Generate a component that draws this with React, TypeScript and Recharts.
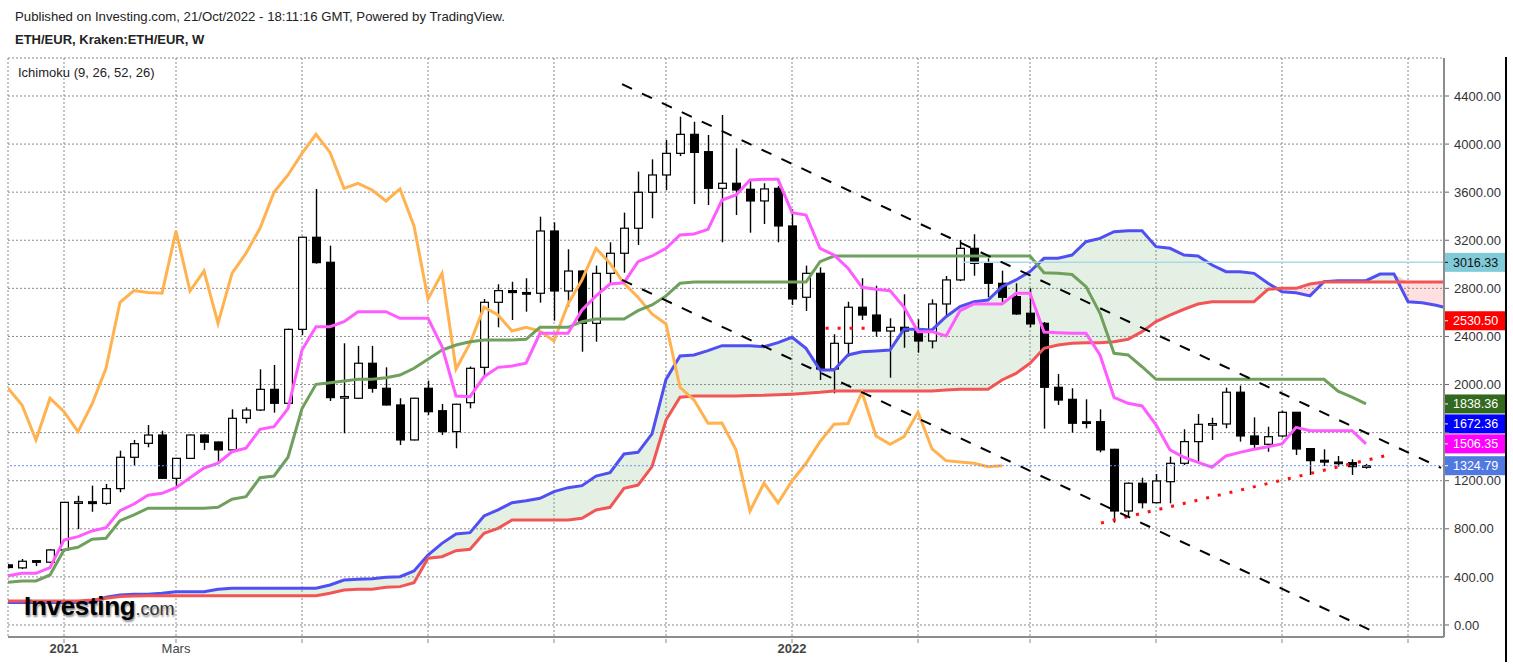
import React from 'react';
import { ComposedChart, XAxis, YAxis, CartesianGrid, Line, Area, Bar, ReferenceLine } from 'recharts';

// Weekly bars, index 0 = first week of January 2021 (first bar index = -4)
const FIRST_WEEK = -4;

const opens = [
  500, 475, 535, 522, 624, 1015, 1025, 1012, 1134, 1395,
  1511, 1580, 1220, 1386, 1580, 1522, 1456, 1719, 1788, 1960,
  1844, 2459, 3225, 3017, 1891, 1886, 2177, 1969, 1830, 1539,
  1969, 1782, 1608, 1849, 2143, 2684, 2781, 2765, 2759, 3277,
  2778, 2944, 2509, 2925, 3092, 3300, 3599, 3743, 3923, 4081,
  3937, 3632, 3674, 3624, 3527, 3632, 3319, 2726, 2925, 2129,
  2343, 2643, 2578, 2445, 2476, 2445, 2362, 2670, 2870, 3133,
  3008, 2842, 2731, 2593, 2509, 1977, 1877, 1690, 1691, 1461,
  948, 1179, 1017, 1192, 1345, 1525, 1669, 1672, 1936, 1572,
  1503, 1572, 1769, 1467, 1370, 1355, 1350, 1317,
];
const highs = [
  505, 549, 540, 630, 1025, 1075, 1159, 1173, 1450, 1539,
  1663, 1616, 1390, 1585, 1585, 1525, 1794, 1810, 2127, 2163,
  2465, 3230, 3626, 3155, 2343, 2321, 2321, 2143, 1886, 1890,
  2032, 1838, 1840, 2150, 2711, 2834, 2855, 2884, 3396, 3349,
  3125, 2950, 2989, 3183, 3430, 3771, 3873, 4034, 4228, 4186,
  4076, 4242, 3965, 3707, 3674, 3651, 3458, 2989, 2975, 2418,
  2689, 2884, 2822, 2551, 2751, 2543, 2709, 2903, 3202, 3250,
  3050, 2947, 2842, 2800, 2520, 2088, 1969, 1877, 1794, 1465,
  1185, 1225, 1256, 1400, 1628, 1755, 1724, 1974, 1991, 1727,
  1649, 1782, 1772, 1470, 1461, 1406, 1378, 1340,
];
const lows = [
  470, 465, 490, 515, 610, 798, 942, 1000, 1104, 1322,
  1478, 1215, 1145, 1380, 1456, 1345, 1440, 1677, 1780, 1766,
  1840, 2412, 3005, 1863, 1594, 1880, 1932, 1825, 1497, 1535,
  1747, 1580, 1470, 1802, 2071, 2476, 2537, 2606, 2681, 2531,
  2648, 2273, 2356, 2842, 2930, 3161, 3383, 3618, 3900, 3502,
  3493, 3183, 3410, 3263, 3335, 3183, 2662, 2612, 2038, 1927,
  2232, 2537, 2398, 2057, 2306, 2265, 2301, 2564, 2860, 2905,
  2726, 2670, 2580, 2476, 1633, 1830, 1600, 1636, 1436, 851,
  901, 970, 1010, 1012, 1331, 1353, 1539, 1636, 1525, 1464,
  1441, 1560, 1414, 1248, 1322, 1317, 1248, 1300,
];
const closes = [
  478, 530, 528, 624, 1020, 1025, 1010, 1134, 1395, 1508,
  1580, 1220, 1386, 1580, 1520, 1456, 1719, 1788, 1960, 1844,
  2459, 3225, 3014, 1891, 1900, 2177, 1969, 1830, 1539, 1886,
  1774, 1608, 1836, 2135, 2684, 2781, 2765, 2759, 3277, 2778,
  2944, 2509, 2925, 3092, 3300, 3599, 3743, 3923, 4081, 3931,
  3632, 3674, 3618, 3527, 3627, 3319, 2712, 2925, 2129, 2343,
  2643, 2578, 2445, 2476, 2445, 2362, 2670, 2870, 3133, 3008,
  2842, 2726, 2587, 2504, 1977, 1871, 1678, 1680, 1456, 948,
  1179, 1017, 1198, 1345, 1525, 1669, 1675, 1936, 1572, 1503,
  1566, 1769, 1464, 1367, 1355, 1345, 1317, 1324.79,
];

// Ichimoku lines
const tenkan = [
  410, 430, 430, 477, 707, 735, 782, 810, 951, 1006,
  1079, 1095, 1142, 1225, 1306, 1345, 1441, 1470, 1628, 1649,
  1800, 2287, 2481, 2481, 2523, 2606, 2606, 2606, 2551, 2551,
  2551, 2315, 1905, 1899, 2065, 2143, 2154, 2177, 2426, 2426,
  2426, 2620, 2737, 2836, 2847, 3022, 3069, 3133, 3244, 3252,
  3291, 3535, 3577, 3701, 3707, 3707, 3430, 3410, 3133, 3077,
  2967, 2809, 2792, 2781, 2643, 2440, 2440, 2404, 2614, 2670,
  2670, 2670, 2759, 2760, 2436, 2430, 2426, 2426, 2246, 1894,
  1844, 1822, 1664, 1456, 1395, 1353, 1312, 1406, 1436, 1461,
  1483, 1506, 1644, 1616, 1616, 1616, 1616, 1506.35,
];
const kijun = [
  355, 366, 366, 416, 624, 646, 713, 721, 868, 915,
  971, 971, 971, 971, 971, 979, 1046, 1067, 1225, 1239,
  1395, 1800, 2002, 2015, 2029, 2043, 2043, 2057, 2079, 2135,
  2210, 2287, 2329, 2356, 2370, 2370, 2370, 2376, 2476, 2476,
  2476, 2523, 2545, 2545, 2545, 2614, 2662, 2737, 2842, 2852,
  2852, 2852, 2852, 2852, 2852, 2852, 2852, 2852, 3022, 3069,
  3069, 3069, 3069, 3069, 3069, 3069, 3069, 3069, 3069, 3069,
  3069, 3069, 3069, 3069, 2930, 2925, 2915, 2814, 2593, 2260,
  2246, 2148, 2043, 2043, 2043, 2043, 2043, 2043, 2043, 2043,
  2043, 2043, 2043, 2043, 2043, 1945, 1895, 1838.36,
];
// Leading spans (already displaced 26 weeks forward), index -4 .. 99
const spanA = [
  186, 186, 186, 186, 186, 186, 190, 230, 250, 255,
  255, 264, 277, 277, 277, 297, 305, 305, 305, 305,
  305, 305, 305, 333, 374, 380, 385, 397, 402, 449,
  582, 679, 757, 768, 907, 957, 1017, 1034, 1054, 1109,
  1142, 1159, 1239, 1267, 1422, 1436, 1589, 2043, 2237, 2246,
  2282, 2323, 2323, 2323, 2315, 2348, 2393, 2301, 2121, 2121,
  2246, 2273, 2279, 2287, 2459, 2459, 2454, 2564, 2648, 2689,
  2703, 2814, 2870, 2940, 3050, 3050, 3077, 3188, 3216, 3271,
  3280, 3280, 3147, 3133, 3077, 3069, 2994, 2939, 2939, 2925,
  2842, 2772, 2764, 2737, 2856, 2864, 2864, 2864, 2919, 2919,
  2689, 2681, 2660, 2630,
];
const spanB = [
  200, 200, 200, 200, 200, 200, 208, 222, 236, 241,
  244, 244, 244, 244, 244, 244, 244, 244, 244, 244,
  244, 244, 244, 264, 291, 297, 297, 313, 319, 352,
  555, 568, 618, 630, 763, 804, 873, 873, 873, 873,
  873, 887, 957, 979, 1137, 1164, 1317, 1705, 1894, 1905,
  1905, 1905, 1905, 1908, 1910, 1915, 1920, 1927, 1935, 1946,
  1946, 1946, 1946, 1946, 1946, 1946, 1946, 1955, 1960, 1960,
  1960, 2038, 2093, 2177, 2301, 2329, 2343, 2348, 2348, 2356,
  2376, 2440, 2523, 2578, 2626, 2670, 2689, 2689, 2689, 2689,
  2792, 2800, 2800, 2836, 2852, 2852, 2852, 2852, 2852, 2852,
  2852, 2852, 2852, 2852,
];
const CHIKOU_SHIFT = 26;

const monthTicks = [0, 8, 17, 26, 35, 43, 52, 61, 69, 78, 87, 96];
const monthLabels = ['2021', 'Mars', '', '', '', '', '2022', '', '', '', '', ''];
const yearLabels = ['2021', '2022'];
const priceTicks = [0, 400, 800, 1200, 1600, 2000, 2400, 2800, 3200, 3600, 4000, 4400];
// price labels hidden behind the value badges in the reference
const hiddenPriceLabels = [1600];

// Hand-drawn analysis lines (week index, price)
const channelUpper = [{ x: 39.86, y: 4498 }, { x: 98.36, y: 1306 }];
const channelLower = [{ x: 39.86, y: 2870 }, { x: 93.3, y: -42 }];
const supportTrend = [{ x: 74.07, y: 848 }, { x: 94.9, y: 1422 }];
const shortLevel = [{ x: 54.4, y: 2468 }, { x: 57.7, y: 2468 }];
const resistance = [{ x: 64.2, y: 3016.33 }, { x: 98.57, y: 3016.33 }];
const lastPrice = 1324.79;

const badgeValues = [3016.33, 2530.5, 1838.36, 1672.36, 1506.35, 1324.79];
const badgeBg = ['#80cbd8', '#ff0000', '#33691e', '#0000ff', '#ff00ff', '#4f79e0'];
const badgeFg = ['#111111', '#ffffff', '#ffffff', '#ffffff', '#ffffff', '#ffffff'];

const rows = spanA.map((a, k) => {
  const b = spanB[k];
  const has = k < closes.length;
  const ch = closes[k + CHIKOU_SHIFT];
  return {
    i: FIRST_WEEK + k,
    o: has ? opens[k] : undefined,
    h: has ? highs[k] : undefined,
    l: has ? lows[k] : undefined,
    c: has ? closes[k] : undefined,
    range: has ? [lows[k], highs[k]] : undefined,
    tenkan: has ? tenkan[k] : undefined,
    kijun: has ? kijun[k] : undefined,
    chikou: ch !== undefined ? ch : undefined,
    spanA: a,
    spanB: b,
    bull: [b, Math.max(a, b)],
    bear: [a, Math.max(a, b)],
  };
});

const FONT = '"Liberation Sans", Arial, sans-serif';

const Candle = (props: any) => {
  const { x, y, width, height, payload } = props;
  if (!payload || payload.o == null) return null;
  const { o, c, h, l } = payload;
  const top = Math.min(y, y + height);
  const full = Math.abs(height);
  const ratio = h === l ? 0 : full / (h - l);
  const bTop = top + (h - Math.max(o, c)) * ratio;
  const bBot = top + (h - Math.min(o, c)) * ratio;
  const cx = x + width / 2;
  const up = c >= o;
  return (
    <g>
      <line x1={cx} x2={cx} y1={top} y2={top + full} stroke="#000" strokeWidth={1.4} />
      <rect
        x={x + 0.6}
        y={bTop}
        width={width - 1.2}
        height={Math.max(bBot - bTop, 1.6)}
        fill={up ? '#ffffff' : '#000000'}
        stroke="#000"
        strokeWidth={1.2}
      />
    </g>
  );
};

const PriceTick = (props: any) => {
  const { x, y, payload } = props;
  const v = Number(payload.value);
  return (
    <g>
      <line x1={x} x2={x + 4} y1={y} y2={y} stroke="#666" strokeWidth={1} />
      {hiddenPriceLabels.includes(v) ? null : (
        <text x={x + 9} y={y} dy="0.36em" fontSize={13} fill="#333" fontFamily={FONT}>
          {v.toFixed(2)}
        </text>
      )}
    </g>
  );
};

const DateTick = (props: any) => {
  const { x, y, payload } = props;
  const idx = monthTicks.indexOf(payload.value);
  const label = idx >= 0 ? monthLabels[idx] : '';
  const bold = yearLabels.includes(label);
  return (
    <g>
      <line x1={x} x2={x} y1={y} y2={y + 4} stroke="#888" strokeWidth={1} />
      <text
        x={x}
        y={y + 14}
        textAnchor="middle"
        fontSize={13}
        fontWeight={bold ? 'bold' : 'normal'}
        fill="#444"
        fontFamily={FONT}
      >
        {label}
      </text>
    </g>
  );
};

const makeBadge = (k: number) => (lp: any) => {
  const vb = lp.viewBox || {};
  const right = (vb.x || 0) + (vb.width || 0);
  const cy = vb.y || 0;
  return (
    <g>
      <rect x={right} y={cy - 9.5} width={61} height={19} fill={badgeBg[k]} />
      <line x1={right} x2={right + 4} y1={cy} y2={cy} stroke={badgeFg[k]} strokeWidth={1} />
      <text x={right + 9} y={cy} dy="0.35em" fontSize={12.5} fill={badgeFg[k]} fontFamily={FONT}>
        {badgeValues[k].toFixed(2)}
      </text>
    </g>
  );
};

export default function App() {
  return (
    <div
      style={{
        position: 'fixed',
        left: 0,
        top: 0,
        width: 1513,
        height: 665,
        overflow: 'hidden',
        background: '#ffffff',
        fontFamily: FONT,
      }}
    >
      <div style={{ position: 'absolute', left: 15, top: 9, fontSize: 13.2, color: '#222', whiteSpace: 'nowrap' }}>
        Published on Investing.com, 21/Oct/2022 - 18:11:16 GMT, Powered by TradingView.
      </div>
      <div style={{ position: 'absolute', left: 15, top: 32, fontSize: 13, fontWeight: 'bold', color: '#222', whiteSpace: 'nowrap' }}>
        ETH/EUR, Kraken:ETH/EUR, W
      </div>
      <div style={{ position: 'absolute', left: 0, top: 0 }}>
        <ComposedChart
          width={1513}
          height={665}
          data={rows}
          margin={{ top: 58, right: 9, bottom: 8, left: 8 }}
        >
          <CartesianGrid stroke="#8a8a8a" strokeDasharray="2 2" strokeWidth={1} />
          <XAxis
            dataKey="i"
            type="number"
            domain={[-4, 98.57]}
            allowDataOverflow
            ticks={monthTicks}
            interval={0}
            height={20}
            tickSize={0}
            tickLine={false}
            axisLine={{ stroke: '#8c8c8c', strokeWidth: 2 }}
            tick={<DateTick />}
          />
          <YAxis
            orientation="right"
            type="number"
            domain={[-100, 4716]}
            allowDataOverflow
            ticks={priceTicks}
            interval={0}
            width={60}
            tickSize={0}
            tickMargin={1}
            tickLine={false}
            axisLine={{ stroke: '#8c8c8c', strokeWidth: 2 }}
            tick={<PriceTick />}
          />
          <Area type="linear" dataKey="bull" stroke="none" fill="#5aa05a" fillOpacity={0.16} isAnimationActive={false} activeDot={false} />
          <Area type="linear" dataKey="bear" stroke="none" fill="#ff5252" fillOpacity={0.18} isAnimationActive={false} activeDot={false} />
          <Line type="linear" dataKey="spanA" stroke="#5050f2" strokeWidth={3} dot={false} activeDot={false} isAnimationActive={false} />
          <Line type="linear" dataKey="spanB" stroke="#f25555" strokeWidth={3} dot={false} activeDot={false} isAnimationActive={false} />
          <Line type="linear" dataKey="chikou" stroke="#ffb24f" strokeWidth={3} dot={false} activeDot={false} isAnimationActive={false} />
          <Line type="linear" dataKey="kijun" stroke="#6fa05e" strokeWidth={3} dot={false} activeDot={false} isAnimationActive={false} />
          <Line type="linear" dataKey="tenkan" stroke="#ff5cff" strokeWidth={3} dot={false} activeDot={false} isAnimationActive={false} />
          <Bar dataKey="range" barSize={9} shape={<Candle />} isAnimationActive={false} />
          <ReferenceLine y={lastPrice} stroke="#6f8ff0" strokeDasharray="2 2" strokeWidth={1} />
          <ReferenceLine segment={resistance} stroke="#a6dce3" strokeWidth={1.5} />
          <ReferenceLine segment={shortLevel} stroke="#ff1010" strokeWidth={3} strokeDasharray="3 9" />
          <ReferenceLine segment={supportTrend} stroke="#ff1010" strokeWidth={3} strokeDasharray="3 9" />
          <ReferenceLine segment={channelUpper} stroke="#000" strokeWidth={2} strokeDasharray="11 11" />
          <ReferenceLine segment={channelLower} stroke="#000" strokeWidth={2} strokeDasharray="11 11" />
          {badgeValues.map((v, k) => (
            <ReferenceLine key={k} y={v} stroke="none" ifOverflow="visible" label={makeBadge(k)} />
          ))}
        </ComposedChart>
      </div>
      <div style={{ position: 'absolute', left: 18, top: 65, fontSize: 13, color: '#222', whiteSpace: 'nowrap' }}>
        Ichimoku (9, 26, 52, 26)
      </div>
      <div
        style={{
          position: 'absolute',
          left: 24,
          top: 591,
          whiteSpace: 'nowrap',
          textShadow: '1px 2px 2px rgba(0,0,0,0.45)',
        }}
      >
        <span style={{ fontSize: 26, fontWeight: 'bold', color: '#000', letterSpacing: -0.3 }}>Investing</span>
        <span style={{ fontSize: 18, color: '#333' }}>.com</span>
      </div>
      <div style={{ position: 'absolute', left: 1505, top: 57, width: 1.5, height: 605, background: '#000' }} />
    </div>
  );
}
